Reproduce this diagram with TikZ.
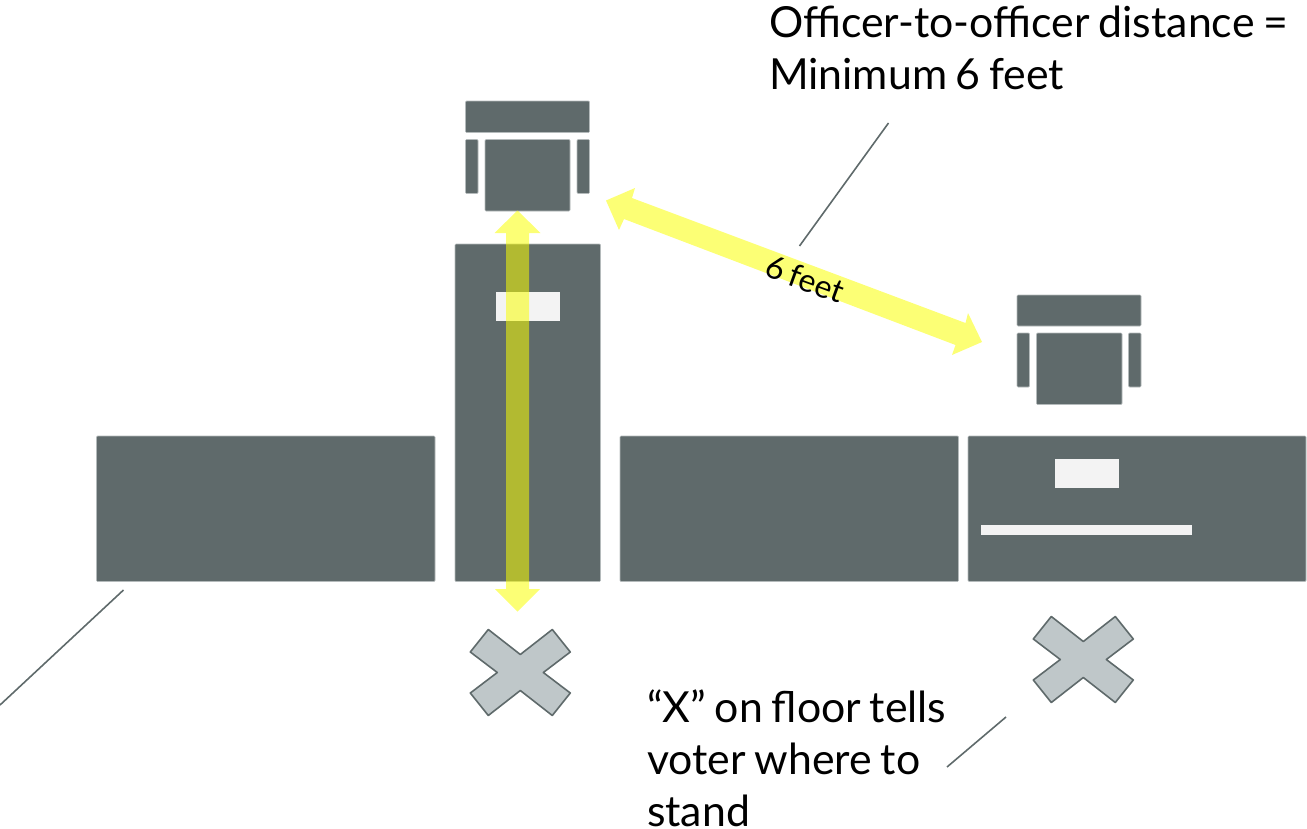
\documentclass[tikz,border=0pt]{standalone}
\usepackage{fontspec}
\setmainfont[WordSpace=0.8]{Lato}
\definecolor{slatebox}{HTML}{5F6A6B}
\definecolor{slateedge}{HTML}{B4BABB}
\definecolor{paper}{HTML}{F3F3F3}
\definecolor{crossfill}{HTML}{BFC7C9}
\definecolor{leader}{HTML}{5F6A6B}
\definecolor{markyellow}{rgb}{0.98,1,0}
\tikzset{
  box/.style={draw=slateedge,line width=0.6pt,fill=slatebox,rounded corners=1pt,inner sep=0pt,outer sep=0pt,anchor=north west},
  sheet/.style={fill=paper,draw=none,inner sep=0pt,outer sep=0pt,anchor=north west},
  measure/.style={fill=markyellow,fill opacity=0.54,draw=none},
  crossmark/.style={fill=crossfill,draw=slatebox,line width=1.6pt,line join=round},
  leaderline/.style={draw=leader,line width=1.6pt},
  caption/.style={inner sep=0pt,outer sep=0pt,anchor=north west,align=left,font=\fontsize{42.8}{52}\selectfont,text=black}
}
\newcommand{\boxnode}[6][box]{\node[#1,minimum width=#5-#3,minimum height=#6-#4] (#2) at (#3,#4) {};}
\newcommand{\crossshape}[2]{%
  \path[crossmark,shift={(#1,#2)}] (-32,-43) -- (0,-18) -- (32,-43) -- (50,-20.5) -- (23,0) -- (50,20.5) -- (32,43) -- (0,18) -- (-32,43) -- (-50,20.5) -- (-23,0) -- (-50,-20.5) -- cycle;}
\begin{document}
\begin{tikzpicture}[x=1pt,y=-1pt]
\useasboundingbox (0,0) rectangle (1307,828);
% tables
\boxnode{tableA}{96.5}{436}{435}{581.5}
\boxnode{tableB}{455}{244}{600.5}{581.5}
\boxnode{tableC}{620}{436}{958.5}{581.5}
\boxnode{tableD}{968}{436}{1306}{581.5}
\boxnode[sheet]{sheetB}{496}{292}{559.5}{321}
\boxnode[sheet]{sheetD}{1055}{459}{1118.5}{488}
\boxnode[sheet]{stripD}{981}{525}{1192}{535}
% chair 1
\boxnode{backA}{465.5}{101}{589.5}{132.5}
\boxnode{armAl}{465.5}{139.5}{478}{193.5}
\boxnode{armAr}{577}{139.5}{589.5}{193.5}
\boxnode{seatA}{485}{139.5}{570}{211}
% chair 2
\boxnode{backB}{1017}{295}{1141}{326}
\boxnode{armBl}{1017}{333}{1029.5}{387}
\boxnode{armBr}{1128.5}{333}{1141}{387}
\boxnode{seatB}{1036.5}{333}{1122}{404.5}
% crosses
\crossshape{520.3}{672.5}
\crossshape{1083.3}{659.5}
% yellow arrows
\path[measure] (517.5,210.5) -- (540.5,233) -- (529,233) -- (529,589) -- (540,589) -- (517.5,611.5) -- (495,589) -- (506,589) -- (506,233) -- (494.5,233) -- cycle;
\path[measure] (606,200.5) -- (635,188) -- (632,198) -- (965.5,323) -- (968,313) -- (982,342) -- (952,355) -- (955.5,345) -- (624,219) -- (619,230) -- cycle;
% leader lines
\coordinate (lineAa) at (888.5,123);
\coordinate (lineAb) at (799.5,246);
\coordinate (lineBa) at (123.5,590);
\coordinate (lineBb) at (0,705);
\coordinate (lineCa) at (1006,717);
\coordinate (lineCb) at (947,767);
\draw[leaderline] (lineAa) -- (lineAb);
\draw[leaderline] (lineBa) -- (lineBb);
\draw[leaderline] (lineCa) -- (lineCb);
% text
\node[caption] (capA) at (769,6) {Officer-to-officer distance =\\Minimum 6 feet};
\node[caption] (capB) at (647,690) {“X” on floor tells\\voter where to\\stand};
\node[inner sep=0pt,rotate=-20,font=\fontsize{32}{36}\selectfont] (capC) at (805,279) {6 feet};
\end{tikzpicture}
\end{document}
